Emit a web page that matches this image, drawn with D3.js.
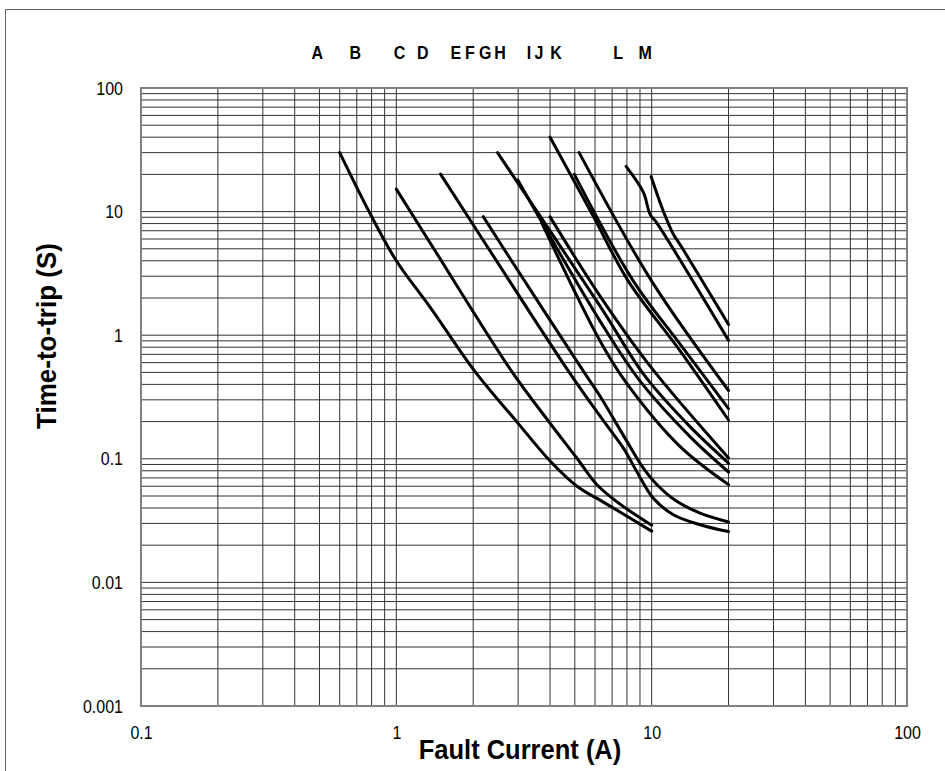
<!doctype html>
<html lang="en">
<head>
<meta charset="UTF-8">
<title>Time-to-trip</title>
<script src="https://d3js.org/d3.v7.min.js"></script>
<style>
  body { margin: 0; background: #fff; }
  text { font-family: "Liberation Sans", Arial, sans-serif; }
  .grid line { stroke: #333; stroke-width: 1; }
  .trip { fill: none; stroke: #000; stroke-width: 3; stroke-linejoin: round; stroke-linecap: round; }
</style>
</head>
<body>
<div class="canvas"></div>
<script>
  // curve letters across the top, placed at a current value (A)
  const curveLabels = ['A', 'B', 'C', 'D', 'E', 'F', 'G', 'H', 'I', 'J', 'K', 'L', 'M'];
  const labelCurrents = [0.49, 0.69, 1.03, 1.27, 1.71, 1.94, 2.23, 2.55, 3.31, 3.62, 4.22, 7.39, 9.42];

  const xTicks = [0.1, 1, 10, 100];
  const yTicks = [0.001, 0.01, 0.1, 1, 10, 100];

  // [current (A), time (s)]
  const curve1 = [[0.6, 30], [0.79, 9.6], [1.0, 4.0], [1.36, 1.67], [2.03, 0.51], [2.96, 0.2], [4.0, 0.096], [5.1, 0.06], [6.67, 0.043], [10, 0.026]];
  const curve2 = [[1.0, 15.2], [1.42, 4.8], [2.83, 0.51], [4.0, 0.194], [5.09, 0.1015], [6.09, 0.062], [7.52, 0.043], [10, 0.029]];
  const curve3 = [[1.49, 20.1], [2.33, 4.8], [4.72, 0.512], [6.28, 0.221], [7.75, 0.122], [8.74, 0.079], [10.15, 0.048], [12.16, 0.0353], [15.47, 0.0293], [20, 0.0258]];
  const curve4 = [[2.19, 9.1], [2.67, 4.8], [5.4, 0.512], [6.28, 0.321], [7.99, 0.139], [9.28, 0.084], [10.47, 0.062], [12.54, 0.0453], [15.47, 0.0364], [20, 0.0308]];
  const curve5 = [[2.49, 30], [6.28, 1.72], [9.42, 0.466], [14.1, 0.183], [20, 0.0924]];
  const curve6 = [[2.99, 18], [6.28, 1.3], [9.01, 0.425], [14.1, 0.152], [20, 0.0782]];
  const curve7 = [[3.71, 8.1], [6.28, 0.896], [7.87, 0.425], [12.9, 0.126], [20, 0.0618]];
  const curve8 = [[4.0, 9.06], [6.28, 2.07], [9.86, 0.562], [20, 0.1016]];
  const curve9 = [[4.0, 40], [5.9, 9.2], [8.1, 2.74], [12.9, 0.75], [20, 0.206]];
  const curve10 = [[4.98, 20], [8.48, 2.74], [12.9, 0.85], [20, 0.255]];
  const curve11 = [[5.2, 30], [10, 2.74], [20, 0.357]];
  const curve12 = [[7.94, 23.2], [9.28, 14.3], [9.86, 9.5], [10.47, 8.1], [20, 0.908]];
  const curve13 = [[9.95, 19.2], [11.1, 10.1], [12.16, 6.56], [12.9, 5.44], [20, 1.22]];

  const curves = [curve1, curve2, curve3, curve4, curve5, curve6, curve7, curve8, curve9, curve10, curve11, curve12, curve13];

  const width = 945, height = 771;

  const svg = d3.select('.canvas')
    .append('svg')
    .attr('width', width)
    .attr('height', height);

  // outer frame
  svg.append('rect')
    .attr('x', 5.5).attr('y', 9.5)
    .attr('width', 960).attr('height', 800)
    .attr('fill', 'none').attr('stroke', '#666').attr('stroke-width', 1);

  const x = d3.scaleLog().domain([0.1, 100]).range([141, 907]);
  const y = d3.scaleLog().domain([0.001, 100]).range([706, 88]);

  // log grid: 1..9 per decade
  const minor = (lo, hi) => {
    const out = [];
    for (let d = lo; d < hi; d *= 10) {
      for (let m = 2; m <= 9; m++) out.push(d * m);
    }
    return out;
  };

  const grid = svg.append('g').attr('class', 'grid');
  grid.selectAll('.vx')
    .data(minor(0.1, 100).concat(xTicks))
    .join('line')
    .attr('x1', d => x(d)).attr('x2', d => x(d))
    .attr('y1', y(100)).attr('y2', y(0.001));
  grid.selectAll('.hy')
    .data(minor(0.001, 100).concat(yTicks))
    .join('line')
    .attr('x1', x(0.1)).attr('x2', x(100))
    .attr('y1', d => y(d)).attr('y2', d => y(d));

  // plot border
  svg.append('rect')
    .attr('x', x(0.1)).attr('y', y(100))
    .attr('width', x(100) - x(0.1)).attr('height', y(0.001) - y(100))
    .attr('fill', 'none').attr('stroke', '#808080').attr('stroke-width', 2);

  const line = d3.line()
    .x(d => x(d[0]))
    .y(d => y(d[1]))
    .curve(d3.curveCatmullRom.alpha(0.5));

  svg.append('g')
    .selectAll('path')
    .data(curves)
    .join('path')
    .attr('class', 'trip')
    .attr('d', line);

  // squeeze text horizontally: taller glyphs, same width as at `base` size
  function narrow(sel, size, base) {
    sel.each(function () {
      const t = d3.select(this);
      t.attr('font-size', base);
      const w = this.getComputedTextLength();
      t.attr('font-size', size)
        .attr('textLength', w)
        .attr('lengthAdjust', 'spacingAndGlyphs');
    });
  }

  // axes (labels only)
  const yAxis = svg.append('g')
    .attr('transform', `translate(${x(0.1)},0)`)
    .call(d3.axisLeft(y).tickValues(yTicks).tickFormat(d3.format('~g')).tickSize(0).tickPadding(18));
  const xAxis = svg.append('g')
    .attr('transform', `translate(0,${y(0.001)})`)
    .call(d3.axisBottom(x).tickValues(xTicks).tickFormat(d3.format('~g')).tickSize(0).tickPadding(20));
  [yAxis, xAxis].forEach(a => {
    a.select('.domain').remove();
    a.selectAll('text')
      .attr('font-family', '"Liberation Sans", Arial, sans-serif')
      .attr('fill', '#000')
      .call(narrow, 19, 16);
  });

  svg.append('text')
    .attr('x', 520).attr('y', 759)
    .attr('text-anchor', 'middle')
    .attr('font-weight', 'bold')
    .text('Fault Current (A)')
    .call(narrow, 27, 25.5);

  svg.append('text')
    .attr('transform', 'translate(56,336) rotate(-90)')
    .attr('text-anchor', 'middle')
    .attr('font-weight', 'bold')
    .text('Time-to-trip (S)')
    .call(narrow, 27, 26);

  svg.append('g')
    .selectAll('text')
    .data(curveLabels)
    .join('text')
    .attr('x', (d, i) => x(labelCurrents[i]))
    .attr('y', 59)
    .attr('text-anchor', 'middle')
    .attr('font-weight', 'bold')
    .text(d => d)
    .call(narrow, 19, 16);
</script>
</body>
</html>
